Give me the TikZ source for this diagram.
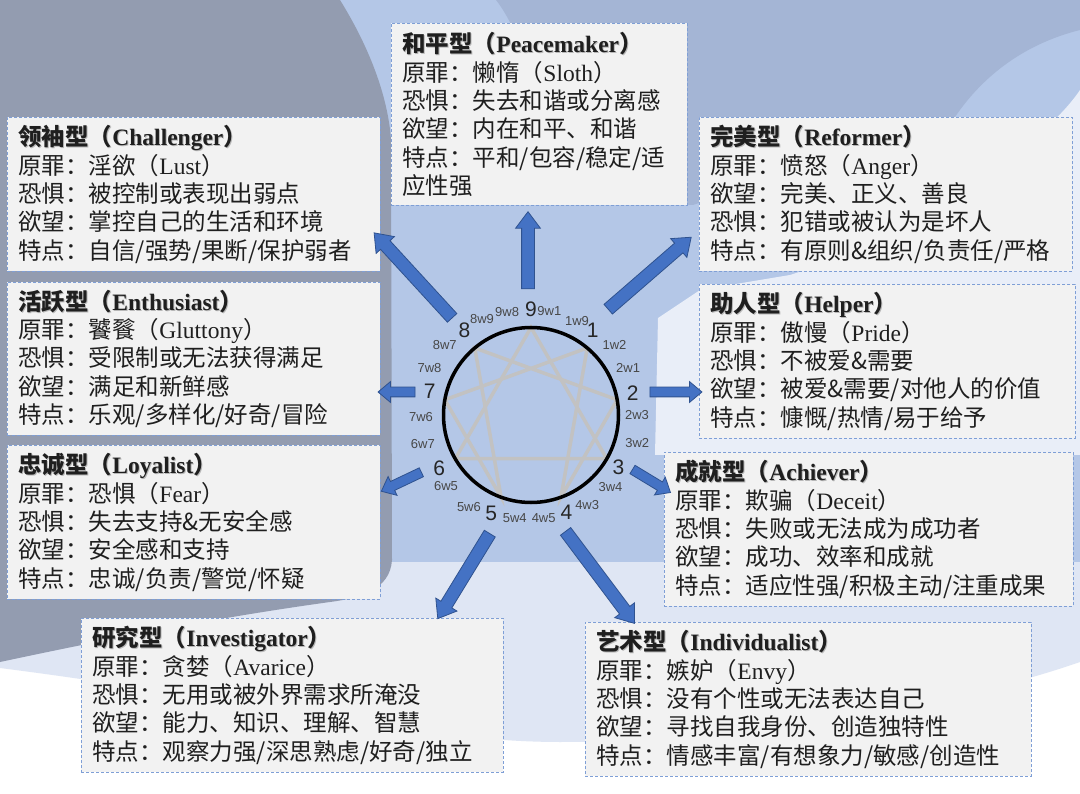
\documentclass[tikz,border=0pt]{standalone}
\usepackage{fontspec}
\setmainfont{Noto Sans CJK SC}
\newfontfamily\latfont{Liberation Serif}
\newfontfamily\numfont{Liberation Sans}
\usetikzlibrary{shapes.arrows,calc}
\definecolor{graybg}{HTML}{939CB0}
\definecolor{lightbg}{HTML}{B4C7E7}
\definecolor{midbg}{HTML}{A4B5D5}
\definecolor{lavbg}{HTML}{DFE6F4}
\definecolor{whitbg}{HTML}{E9EEF8}
\definecolor{boxfill}{HTML}{F2F2F2}
\definecolor{boxline}{HTML}{7F9FD6}
\definecolor{arrowfill}{HTML}{4472C4}
\definecolor{arrowline}{HTML}{2F528F}
\definecolor{starline}{HTML}{C2C2C2}
\newcommand\eng[1]{{\latfont #1}}
\newcommand\boxttl[1]{\makebox[0pt][l]{\kern1pt\raisebox{-1pt}{\color{black!28}#1}}#1}
\newcommand\bigarrow[3][]{\path let \p1=($(#3)-(#2)$), \n1={atan2(\y1,\x1)}, \n2={veclen(\x1,\y1)} in node[barrow,#1,minimum height=\n2,rotate=\n1] at ($(#2)!0.5!(#3)$) {};}
\begin{document}
\begin{tikzpicture}[x=1pt,y=-1pt,
  tbox/.style={draw=boxline, dash pattern=on 3pt off 2pt, fill=boxfill, line width=0.9pt,
    anchor=north west, inner xsep=11pt, inner ysep=0pt, align=left,
    font=\fontsize{23.5}{28.3}\selectfont, text=black!88},
  barrow/.style={single arrow, draw=arrowline, fill=arrowfill, line width=0.8pt,
    inner xsep=0pt, inner ysep=6pt, single arrow head extend=6pt, single arrow tip angle=74,
    single arrow head indent=0pt, anchor=center},
  sarrow/.style={inner ysep=4.5pt, single arrow head extend=5.5pt, single arrow tip angle=80},
  num/.style={font=\numfont\fontsize{21}{21}\selectfont, text=black!85, inner sep=0pt},
  wing/.style={font=\numfont\fontsize{13}{13}\selectfont, text=black!72, inner sep=0pt}]
\useasboundingbox (0,0) rectangle (1080,794);
% background
\fill[white] (0,0) rectangle (1080,794);
\fill[lavbg] (0,450) -- (1080,450) -- (1080,662) .. controls (1000,690) and (800,742) .. (560,742)
  .. controls (420,742) and (250,700) .. (0,668) -- cycle;
\fill[lightbg] (330,0) rectangle (1080,562);
\fill[whitbg] (1080,90) .. controls (1040,150) and (900,240) .. (790,275) -- (700,290) -- (658,318)
  -- (655,455) -- (1080,455) -- cycle;
\fill[midbg] (496,0) -- (1080,0) -- (1080,30) .. controls (1020,45) and (980,80) .. (955,117)
  -- (693,205) -- (600,205) .. controls (540,100) and (520,30) .. (496,0) -- cycle;
\fill[graybg] (0,0) -- (340,0) .. controls (368,45) and (388,95) .. (391,140) -- (392,560)
  .. controls (390,590) and (360,598) .. (330,602) .. controls (200,620) and (80,645) .. (0,662) -- cycle;

% enneagram
\coordinate (c) at (531,415);
\foreach \k in {0,...,8} \coordinate (p\k) at ($(c)+({40*\k-90}:87.5)$);
\draw[starline, line width=3.5pt, line join=miter] (p0) -- (p3) -- (p6) -- cycle;
\draw[starline, line width=3.5pt, line join=miter] (p1) -- (p4) -- (p2) -- (p8) -- (p5) -- (p7) -- cycle;
\node[circle, draw=black, line width=3.5pt, minimum size=175pt, inner sep=0pt] (ring) at (c) {};
\foreach \lab/\ang/\r in {9/0/106, 1/36/105, 2/78/104, 3/121/102, 4/160/104, 5/202/106, 6/240/106, 7/283/104, 8/322/108}
  \node[num] (d\lab) at ($(c)+({\ang-90}:\r)$) {\lab};
\foreach \lab/\ang/\r in {9w1/10/106, 1w9/26/105, 1w2/50/109, 2w1/64/108, 2w3/90/106, 3w2/105/110,
  3w4/132/107, 4w3/148/106, 4w5/173/104, 5w4/189/104, 5w6/214/111, 6w5/230/111, 6w7/255/112,
  7w6/269/110, 7w8/295/112, 8w7/309/111, 8w9/333/108, 9w8/347/106}
  \node[wing] (w\lab) at ($(c)+({\ang-90}:\r)$) {\lab};

% boxes
\node[tbox, text width=274pt, minimum height=182pt] (n9) at (391,23) {%
\boxttl{\textbf{和平型（\eng{Peacemaker}）}}\\
原罪：懒惰（\eng{Sloth}）\\
恐惧：失去和谐或分离感\\
欲望：内在和平、和谐\\
特点：平和/包容/稳定/适\\
应性强};
\node[tbox, text width=351pt, minimum height=154pt] (n8) at (7,117) {%
\boxttl{\textbf{领袖型（\eng{Challenger}）}}\\
原罪：淫欲（\eng{Lust}）\\
恐惧：被控制或表现出弱点\\
欲望：掌控自己的生活和环境\\
特点：自信/强势/果断/保护弱者};
\node[tbox, text width=351pt, minimum height=154pt] (n1) at (699,117) {%
\boxttl{\textbf{完美型（\eng{Reformer}）}}\\
原罪：愤怒（\eng{Anger}）\\
欲望：完美、正义、善良\\
恐惧：犯错或被认为是坏人\\
特点：有原则\&组织/负责任/严格};
\node[tbox, text width=351pt, minimum height=153pt] (n7) at (7,282) {%
\boxttl{\textbf{活跃型（\eng{Enthusiast}）}}\\
原罪：饕餮（\eng{Gluttony}）\\
恐惧：受限制或无法获得满足\\
欲望：满足和新鲜感\\
特点：乐观/多样化/好奇/冒险};
\node[tbox, text width=354pt, minimum height=154pt] (n2) at (699,284) {%
\boxttl{\textbf{助人型（\eng{Helper}）}}\\
原罪：傲慢（\eng{Pride}）\\
恐惧：不被爱\&需要\\
欲望：被爱\&需要/对他人的价值\\
特点：慷慨/热情/易于给予};
\node[tbox, text width=351pt, minimum height=154pt] (n6) at (7,445) {%
\boxttl{\textbf{忠诚型（\eng{Loyalist}）}}\\
原罪：恐惧（\eng{Fear}）\\
恐惧：失去支持\&无安全感\\
欲望：安全感和支持\\
特点：忠诚/负责/警觉/怀疑};
\node[tbox, text width=387pt, minimum height=154pt] (n3) at (664,452) {%
\boxttl{\textbf{成就型（\eng{Achiever}）}}\\
原罪：欺骗（\eng{Deceit}）\\
恐惧：失败或无法成为成功者\\
欲望：成功、效率和成就\\
特点：适应性强/积极主动/注重成果};
\node[tbox, text width=400pt, minimum height=154pt] (n5) at (81,618) {%
\boxttl{\textbf{研究型（\eng{Investigator}）}}\\
原罪：贪婪（\eng{Avarice}）\\
恐惧：无用或被外界需求所淹没\\
欲望：能力、知识、理解、智慧\\
特点：观察力强/深思熟虑/好奇/独立};
\node[tbox, text width=424pt, minimum height=154pt] (n4) at (585,622) {%
\boxttl{\textbf{艺术型（\eng{Individualist}）}}\\
原罪：嫉妒（\eng{Envy}）\\
恐惧：没有个性或无法表达自己\\
欲望：寻找自我身份、创造独特性\\
特点：情感丰富/有想象力/敏感/创造性};

% arrows
\coordinate (s9) at (528,293); \coordinate (e9) at (528,216);
\coordinate (s8) at (455,321); \coordinate (e8) at (377,236);
\coordinate (s1) at (605,312); \coordinate (e1) at (688,240);
\coordinate (s7) at (418,392); \coordinate (e7) at (381,392);
\coordinate (s2) at (647,392); \coordinate (e2) at (699,392);
\coordinate (s6) at (424,471); \coordinate (e6) at (384,490);
\coordinate (s3) at (630,468); \coordinate (e3) at (668,491);
\coordinate (s5) at (492,530); \coordinate (e5) at (440,615);
\coordinate (s4) at (563,528); \coordinate (e4) at (632,620);
\bigarrow{s9}{e9}
\bigarrow{s8}{e8}
\bigarrow{s1}{e1}
\bigarrow[sarrow]{s7}{e7}
\bigarrow[sarrow]{s2}{e2}
\bigarrow[sarrow]{s6}{e6}
\bigarrow[sarrow]{s3}{e3}
\bigarrow{s5}{e5}
\bigarrow{s4}{e4}
\end{tikzpicture}
\end{document}
